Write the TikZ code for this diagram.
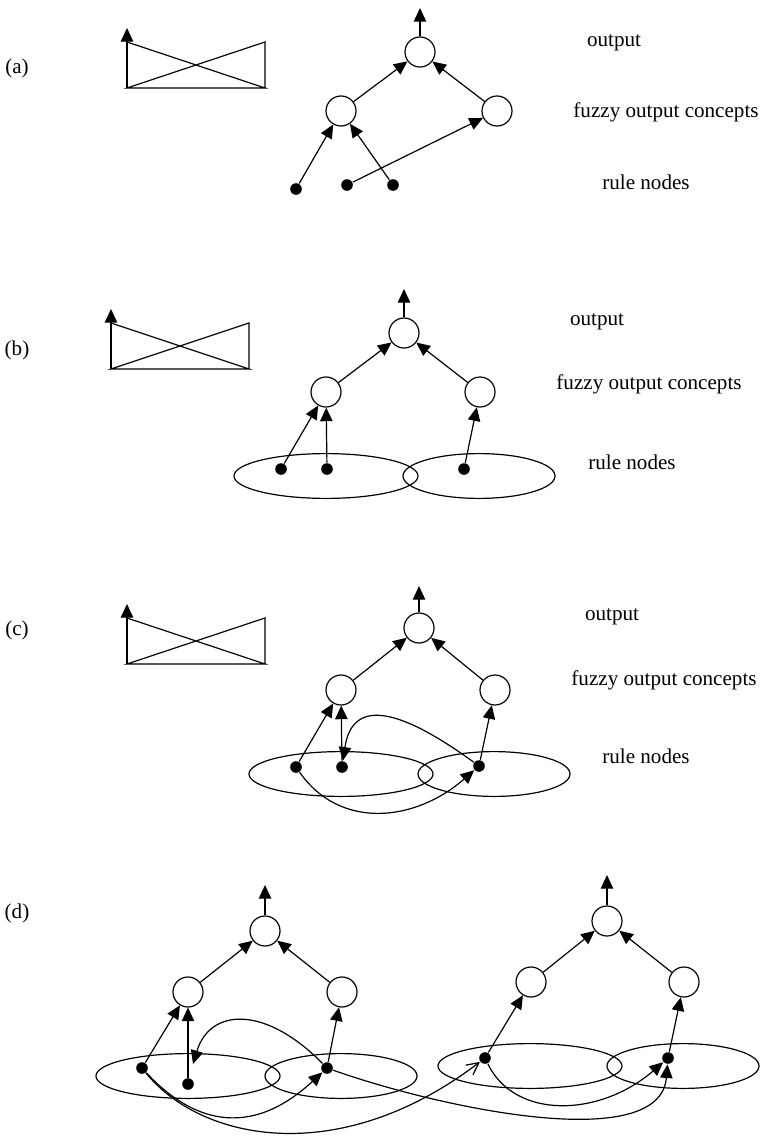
\documentclass[tikz,border=0pt]{standalone}
\usepackage{fontspec}
\setmainfont{Liberation Serif}
\usetikzlibrary{arrows.meta,shapes.geometric}
\tikzset{
  arr/.style={-{Triangle[length=3.4mm,width=3.1mm]}},
  neuron/.style={draw,circle,minimum size=0.75cm,inner sep=0pt},
  rulenode/.style={fill,circle,minimum size=0.29cm,inner sep=0pt},
  bigset/.style={draw,ellipse,minimum width=4.6cm,minimum height=1.12cm,inner sep=0pt},
  smallset/.style={bigset,minimum width=3.8cm},
  lbl/.style={font=\fontsize{15}{18}\selectfont,inner sep=0pt}
}
\newcommand{\crossbox}[1]{%
  \draw (#1) ++(0,-46) -- ++(138,46) -- ++(-138,0) -- ++(138,-46) -- ++(0,46);
  \draw[arr] (#1) -- ++(0,-60);}

\begin{document}
\begin{tikzpicture}[x=0.025cm,y=-0.025cm,line width=0.85pt]
  \useasboundingbox (0,0) rectangle (761,1137);

  \node[lbl] (capA) at (17,68) {(a)};
  \crossbox{127,88}
  \node[neuron] (oA) at (420,52) {};
  \node[neuron] (fA1) at (341,111) {};
  \node[neuron] (fA2) at (497,111) {};
  \node[rulenode] (rA1) at (296,189) {};
  \node[rulenode] (rA2) at (347,185) {};
  \node[rulenode] (rA3) at (393,185) {};
  \coordinate (tA) at (420,8);
  \draw[arr] (oA) -- (tA);
  \draw[arr] (fA1) -- (oA);
  \draw[arr] (fA2) -- (oA);
  \draw[arr] (rA1) -- (fA1);
  \draw[arr] (rA3) -- (fA1);
  \draw[arr] (rA2) -- (fA2);
  \node[lbl] (outA) at (614,43) {output};
  \node[lbl] (fuzA) at (666,112) {fuzzy output concepts};
  \node[lbl] (rulA) at (646,182) {rule nodes};

  \node[lbl] (capB) at (17,350) {(b)};
  \crossbox{111,369}
  \node[bigset] (eB1) at (326,476) {};
  \node[smallset] (eB2) at (479,476) {};
  \node[neuron] (oB) at (404,333) {};
  \node[neuron] (fB1) at (326,392) {};
  \node[neuron] (fB2) at (480,392) {};
  \node[rulenode] (rB1) at (281,469) {};
  \node[rulenode] (rB2) at (327,469) {};
  \node[rulenode] (rB3) at (464,469) {};
  \coordinate (tB) at (404,289);
  \draw[arr] (oB) -- (tB);
  \draw[arr] (fB1) -- (oB);
  \draw[arr] (fB2) -- (oB);
  \draw[arr] (rB1) -- (fB1);
  \draw[arr] (rB2) -- (fB1);
  \draw[arr] (rB3) -- (fB2);
  \node[lbl] (outB) at (597,322) {output};
  \node[lbl] (fuzB) at (649,384) {fuzzy output concepts};
  \node[lbl] (rulB) at (632,462) {rule nodes};

  \node[lbl] (capC) at (17,630) {(c)};
  \crossbox{127,664}
  \node[bigset] (eC1) at (341,774) {};
  \node[smallset] (eC2) at (494,774) {};
  \node[neuron] (oC) at (419,628) {};
  \node[neuron] (fC1) at (341,690) {};
  \node[neuron] (fC2) at (495,690) {};
  \node[rulenode] (rC1) at (296,767) {};
  \node[rulenode] (rC2) at (342,767) {};
  \node[rulenode] (rC3) at (479,766) {};
  \coordinate (tC) at (419,586);
  \draw[arr] (oC) -- (tC);
  \draw[arr] (fC1) -- (oC);
  \draw[arr] (fC2) -- (oC);
  \draw[arr] (rC1) -- (fC1);
  \draw[arr] (rC2) -- (fC1);
  \draw[arr] (rC3) -- (fC2);
  \draw[arr] (rC3) .. controls (395,705) and (352,700) .. (rC2);
  \draw[arr] (rC1) .. controls (340,830) and (415,822) .. (rC3);
  \node[lbl] (outC) at (612,617) {output};
  \node[lbl] (fuzC) at (664,680) {fuzzy output concepts};
  \node[lbl] (rulC) at (646,756) {rule nodes};

  \node[lbl] (capD) at (17,913) {(d)};
  \node[bigset] (eD1) at (188,1076) {};
  \node[smallset] (eD2) at (341,1076) {};
  \node[bigset] (eD3) at (530,1066) {};
  \node[smallset] (eD4) at (683,1066) {};
  \node[neuron] (oD1) at (265,931) {};
  \node[neuron] (fD1) at (188,992) {};
  \node[neuron] (fD2) at (342,992) {};
  \node[neuron] (oD2) at (607,921) {};
  \node[neuron] (fD3) at (531,982) {};
  \node[neuron] (fD4) at (684,982) {};
  \node[rulenode] (rD1) at (142,1068) {};
  \node[rulenode] (rD2) at (188,1084) {};
  \node[rulenode] (rD3) at (327,1068) {};
  \node[rulenode] (rD4) at (485,1058) {};
  \node[rulenode] (rD5) at (668,1058) {};
  \coordinate (tD1) at (265,885);
  \coordinate (tD2) at (607,875);
  \coordinate (aD) at (193,1064);
  \draw[arr] (oD1) -- (tD1);
  \draw[arr] (fD1) -- (oD1);
  \draw[arr] (fD2) -- (oD1);
  \draw[arr] (oD2) -- (tD2);
  \draw[arr] (fD3) -- (oD2);
  \draw[arr] (fD4) -- (oD2);
  \draw[arr] (rD1) -- (fD1);
  \draw[arr] (rD2) -- (fD1);
  \draw[arr] (rD3) -- (fD2);
  \draw[arr] (rD4) -- (fD3);
  \draw[arr] (rD5) -- (fD4);
  \draw[arr] (rD3) .. controls (265,1005) and (210,1008) .. (aD);
  \draw[arr] (rD1) .. controls (190,1120) and (248,1141) .. (rD3);
  \draw[-{Straight Barb[length=3mm,width=3mm]}] (rD1) .. controls (200,1140) and (338,1170) .. (rD4);
  \draw[arr] (rD3) .. controls (440,1108) and (660,1155) .. (rD5);
  \draw[arr] (rD4) .. controls (515,1120) and (600,1117) .. (rD5);
\end{tikzpicture}
\end{document}
